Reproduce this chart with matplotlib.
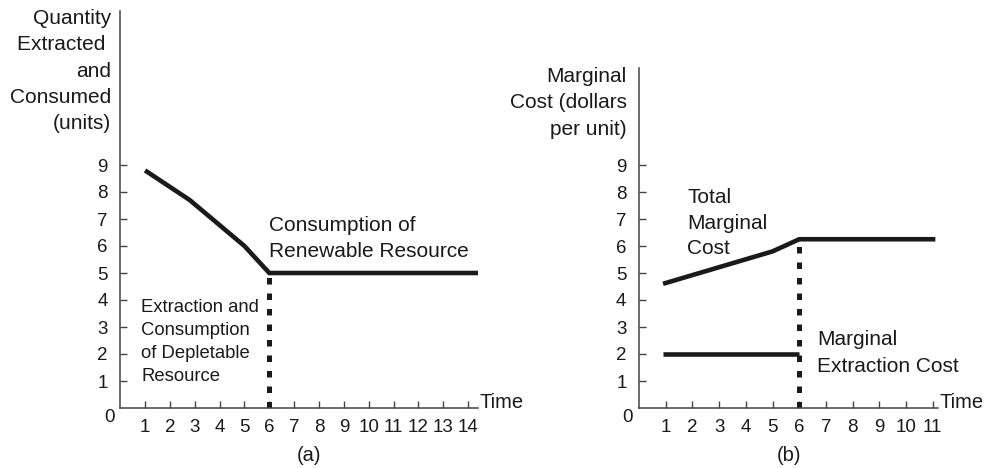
import matplotlib
matplotlib.use("Agg")
import matplotlib.pyplot as plt

plt.rcParams['font.family'] = ['Liberation Sans', 'DejaVu Sans']

# (a) quantity extracted and consumed
time_a = [1, 2.8, 5, 6, 14.45]
qty_a = [8.8, 7.7, 6.0, 5.0, 5.0]
switch_a = 6
switch_qty_a = 5.0
xticks_a = list(range(1, 15))

# (b) marginal cost
time_b = [0.9, 5, 6, 11.1]
total_mc_b = [4.6, 5.8, 6.25, 6.25]
extr_time_b = [0.9, 6]
extr_mc_b = [2.0, 2.0]
switch_b = 6
switch_mc_b = 6.25
xticks_b = list(range(1, 12))

yticks = list(range(1, 10))

W, H = 990, 468
fig = plt.figure(figsize=(W / 100, H / 100), dpi=100)

ink = "#1a1a1a"
axis_col = "#444444"
lw_line = 3.3


def setup(ax, xmax, ymax, xticks):
    ax.set_xlim(0, xmax)
    ax.set_ylim(0, ymax)
    for s in ["top", "right"]:
        ax.spines[s].set_visible(False)
    for s in ["left", "bottom"]:
        ax.spines[s].set_color(axis_col)
        ax.spines[s].set_linewidth(1.1)
    ax.set_xticks(xticks)
    ax.set_yticks(yticks)
    ax.tick_params(axis="both", direction="in", length=5, width=1,
                   color=axis_col, labelsize=13.5, labelcolor=ink)
    ax.tick_params(axis="x", pad=8)
    ax.tick_params(axis="y", pad=9)
    ax.patch.set_alpha(0)
    # origin zero and Time label
    ax.annotate("0", xy=(0, 0), xytext=(-8, -7), textcoords="offset points",
                ha="center", va="center", fontsize=13.5, color=ink,
                annotation_clip=False)
    ax.annotate("Time", xy=(1, 0), xycoords="axes fraction", xytext=(1, 4),
                textcoords="offset points", ha="left", va="center",
                fontsize=14.5, color=ink, annotation_clip=False)


# panel (a)
ax1 = fig.add_axes([120.2 / W, 60 / H, 14.4 * 24.85 / W, 14.7 * 27 / H])
setup(ax1, 14.4, 14.7, xticks_a)
ax1.plot(time_a, qty_a, color=ink, lw=lw_line, solid_capstyle="butt",
         solid_joinstyle="miter")
ax1.plot([switch_a, switch_a], [0, switch_qty_a], color=ink, lw=3.6,
         linestyle=(0, (1.3, 1.8)), dash_capstyle="butt")
ax1.text(-0.36, 12.48, "Quantity\nExtracted \nand\nConsumed\n(units)",
         ha="right", va="center", multialignment="right", fontsize=15,
         color=ink, linespacing=1.49)
ax1.text(6.0, 6.28, "Consumption of\nRenewable Resource", ha="left",
         va="center", fontsize=15, color=ink, linespacing=1.5)
ax1.text(0.85, 2.44, "Extraction and\nConsumption\nof Depletable\nResource",
         ha="left", va="center", fontsize=13.3, color=ink, linespacing=1.45)
ax1.annotate("(a)", xy=(7.6, 0), xytext=(0, -34), textcoords="offset points",
             ha="center", va="center", fontsize=14.5, color=ink,
             annotation_clip=False)

# panel (b)
ax2 = fig.add_axes([639 / W, 60 / H, 11.2 * 26.7 / W, 12.6 * 27 / H])
setup(ax2, 11.2, 12.6, xticks_b)
ax2.plot(time_b, total_mc_b, color=ink, lw=lw_line, solid_capstyle="butt",
         solid_joinstyle="miter")
ax2.plot(extr_time_b, extr_mc_b, color=ink, lw=lw_line, solid_capstyle="butt")
ax2.plot([switch_b, switch_b], [0, switch_mc_b], color=ink, lw=3.6,
         linestyle=(0, (1.3, 1.8)), dash_capstyle="butt")
ax2.text(-0.45, 11.3, "Marginal\nCost (dollars\nper unit)",
         ha="right", va="center", multialignment="right", fontsize=15,
         color=ink, linespacing=1.49)
ax2.text(1.8, 6.85, "Total\nMarginal\nCost", ha="left", va="center",
         fontsize=15, color=ink, linespacing=1.44)
ax2.text(6.67, 2.04, "Marginal\nExtraction Cost", ha="left", va="center",
         fontsize=15, color=ink, linespacing=1.49)
ax2.annotate("(b)", xy=(5.6, 0), xytext=(0, -34), textcoords="offset points",
             ha="center", va="center", fontsize=14.5, color=ink,
             annotation_clip=False)

fig.savefig("out.png", dpi=100)
